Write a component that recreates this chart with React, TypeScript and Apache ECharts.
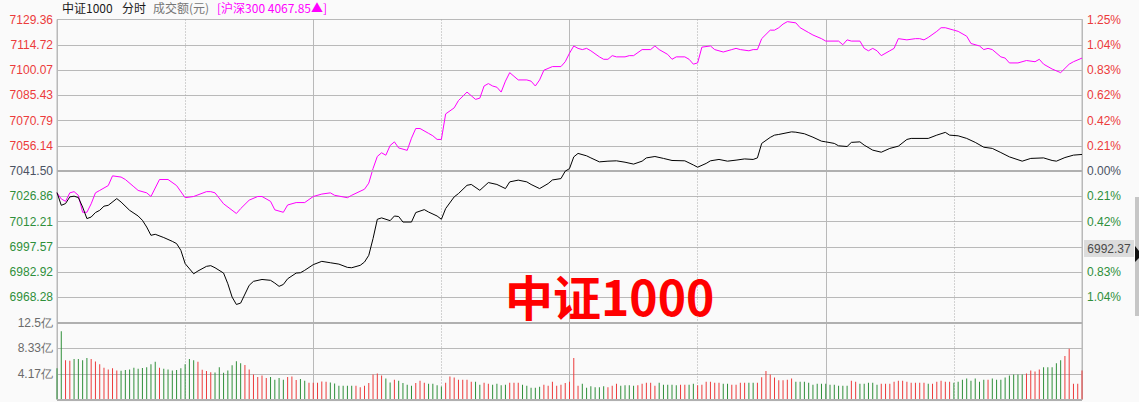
import React, { useEffect, useRef } from "react";
import * as echarts from "echarts";

// ---------- data ----------
const PREV_CLOSE = 7041.5;
const PRICE_MIN = 6953.64;
const PRICE_MAX = 7129.36;

// left axis labels from bottom (first one not shown)
const priceTickLabels = ["", "6968.28", "6982.92", "6997.57", "7012.21", "7026.86", "7041.50", "7056.14", "7070.79", "7085.43", "7100.07", "7114.72", "7129.36"];
// right axis labels from bottom (first one not shown; the -0.62% slot is covered by the crosshair value box)
const pctTickLabels = ["", "1.04%", "0.83%", "", "0.42%", "0.21%", "0.00%", "0.21%", "0.42%", "0.62%", "0.83%", "1.04%", "1.25%"];
const volTickLabels = ["", "4.17亿", "8.33亿", "12.5亿"];

// 中证1000 minute index (0..240) and price
const csiMinutes = [0, 1, 2, 3, 4, 5, 6, 7, 8, 9, 10, 11, 12, 14, 15, 17, 19, 20, 21, 22, 23, 25, 27, 28, 29, 30, 32, 33, 35, 36, 37, 39, 40, 41, 42, 43, 45, 46, 48, 50, 51, 52, 53, 54, 56, 57, 58, 60, 62, 64, 66, 68, 69, 71, 72, 73, 74, 75, 76, 78, 79, 80, 81, 83, 84, 86, 87, 89, 90, 91, 93, 94, 96, 97, 99, 101, 103, 105, 106, 108, 110, 111, 113, 115, 116, 118, 119, 120, 121, 122, 124, 125, 127, 129, 131, 133, 135, 137, 138, 140, 142, 144, 147, 149, 150, 152, 153, 155, 157, 159, 161, 163, 164, 165, 167, 168, 169, 172, 173, 175, 177, 179, 180, 182, 183, 185, 186, 188, 189, 191, 193, 195, 197, 199, 200, 204, 206, 208, 209, 211, 213, 215, 217, 219, 221, 223, 226, 228, 231, 233, 234, 236, 238, 240];
const csiPrices = [7029.0, 7021.6, 7022.6, 7026.5, 7026.9, 7026.1, 7020.6, 7013.9, 7014.8, 7017.4, 7018.7, 7021.1, 7021.6, 7025.5, 7023.5, 7018.7, 7015.4, 7012.9, 7009.0, 7004.2, 7004.8, 7002.9, 7000.7, 6999.4, 6995.5, 6987.8, 6981.9, 6983.5, 6986.2, 6986.6, 6985.4, 6982.3, 6976.1, 6968.4, 6964.1, 6964.9, 6975.2, 6977.5, 6978.6, 6978.1, 6976.5, 6974.6, 6975.7, 6979.0, 6982.3, 6982.5, 6983.9, 6987.2, 6989.1, 6988.3, 6987.5, 6985.6, 6985.4, 6986.8, 6988.7, 6992.6, 7002.3, 7013.5, 7014.3, 7012.7, 7015.4, 7015.1, 7011.9, 7011.9, 7017.4, 7019.1, 7017.7, 7015.4, 7013.5, 7019.7, 7026.5, 7028.4, 7033.2, 7033.7, 7030.3, 7034.8, 7033.7, 7031.3, 7035.2, 7036.2, 7035.2, 7033.7, 7031.3, 7034.2, 7036.3, 7037.1, 7041.4, 7042.9, 7049.7, 7051.7, 7050.3, 7049.1, 7046.8, 7047.2, 7047.4, 7046.6, 7045.5, 7047.2, 7049.1, 7049.9, 7048.8, 7047.6, 7047.4, 7045.0, 7043.7, 7045.9, 7047.4, 7048.2, 7047.2, 7047.8, 7048.5, 7048.2, 7049.1, 7057.5, 7061.0, 7062.3, 7062.7, 7064.2, 7064.0, 7063.1, 7061.1, 7058.8, 7058.4, 7057.5, 7056.1, 7055.7, 7058.1, 7058.4, 7056.5, 7053.6, 7052.4, 7054.6, 7055.9, 7059.8, 7060.4, 7060.4, 7062.3, 7063.9, 7062.3, 7061.9, 7060.4, 7058.1, 7055.3, 7054.6, 7052.2, 7049.7, 7047.2, 7048.8, 7049.1, 7047.6, 7047.2, 7049.3, 7050.7, 7051.1];

// 沪深300 minute index and change (%)
const hsMinutes = [0, 1, 2, 3, 4, 5, 6, 7, 8, 9, 10, 12, 13, 15, 16, 18, 19, 21, 22, 24, 26, 28, 30, 32, 35, 36, 37, 39, 42, 43, 45, 47, 48, 50, 51, 53, 54, 56, 58, 60, 62, 64, 65, 68, 69, 72, 73, 74, 75, 76, 77, 78, 79, 80, 82, 83, 84, 85, 87, 88, 89, 90, 91, 93, 94, 96, 97, 98, 99, 100, 101, 102, 103, 104, 105, 106, 107, 108, 110, 111, 112, 113, 114, 116, 118, 119, 120, 121, 122, 123, 124, 125, 127, 128, 129, 130, 131, 133, 134, 135, 137, 139, 140, 141, 143, 144, 145, 147, 148, 149, 150, 151, 153, 154, 156, 158, 159, 160, 162, 163, 164, 165, 167, 168, 169, 170, 171, 173, 174, 176, 177, 179, 180, 183, 184, 185, 186, 188, 189, 190, 191, 192, 193, 195, 196, 197, 199, 201, 202, 203, 204, 206, 207, 208, 210, 211, 213, 214, 216, 217, 218, 219, 221, 222, 223, 225, 227, 229, 230, 231, 233, 235, 237, 238, 240];
const hsPct = [-0.18, -0.23, -0.25, -0.18, -0.17, -0.2, -0.34, -0.34, -0.27, -0.18, -0.16, -0.12, -0.04, -0.05, -0.07, -0.13, -0.16, -0.18, -0.21, -0.07, -0.07, -0.12, -0.22, -0.21, -0.17, -0.17, -0.18, -0.27, -0.35, -0.31, -0.24, -0.21, -0.21, -0.25, -0.32, -0.34, -0.28, -0.26, -0.26, -0.21, -0.19, -0.18, -0.2, -0.22, -0.2, -0.15, -0.1, 0.02, 0.12, 0.15, 0.13, 0.21, 0.24, 0.19, 0.17, 0.27, 0.35, 0.35, 0.31, 0.29, 0.26, 0.26, 0.47, 0.52, 0.58, 0.65, 0.62, 0.59, 0.6, 0.7, 0.72, 0.7, 0.69, 0.65, 0.74, 0.81, 0.78, 0.75, 0.75, 0.74, 0.7, 0.75, 0.83, 0.86, 0.86, 0.9, 0.97, 1.03, 1.01, 1.0, 1.01, 0.99, 0.94, 0.92, 0.92, 0.95, 0.94, 0.94, 0.95, 0.95, 1.0, 1.0, 1.03, 1.0, 0.96, 0.92, 0.94, 0.94, 0.92, 0.88, 0.89, 1.02, 1.03, 1.0, 0.98, 1.0, 1.01, 1.0, 0.99, 1.0, 1.0, 1.09, 1.16, 1.16, 1.18, 1.21, 1.23, 1.22, 1.18, 1.14, 1.12, 1.09, 1.07, 1.07, 1.04, 1.08, 1.07, 1.07, 1.01, 0.99, 1.01, 0.99, 0.95, 0.99, 1.01, 1.09, 1.08, 1.09, 1.09, 1.08, 1.1, 1.15, 1.18, 1.18, 1.16, 1.15, 1.11, 1.05, 1.03, 1.0, 1.01, 1.0, 0.94, 0.93, 0.89, 0.89, 0.91, 0.9, 0.92, 0.88, 0.84, 0.81, 0.88, 0.9, 0.93];

// volume per minute (亿元) and direction (1 = up/red, 0 = down/green)
const volumes = [
  5.06, 11.06, 6.39, 6.28, 6.56, 6.56, 6.39, 6.72, 6.56, 6.17,
  5.72, 5.17, 4.89, 5.06, 4.72, 4.67, 4.78, 4.89, 5.17, 5.0,
  5.11, 5.22, 5.72, 6.11, 5.17, 5.0, 4.89, 4.72, 4.78, 5.06,
  5.72, 6.56, 6.39, 6.11, 4.83, 4.61, 4.44, 4.39, 5.22, 4.33,
  4.72, 5.56, 6.22, 5.89, 5.61, 4.89, 4.06, 3.67, 3.89, 3.5,
  3.67, 3.22, 3.5, 3.22, 3.67, 3.72, 3.17, 3.33, 3.06, 2.72,
  2.72, 2.72, 2.94, 2.89, 2.78, 2.61, 2.22, 2.22, 2.22, 2.22,
  2.22, 2.0, 2.22, 2.67, 4.06, 4.22,
  3.89, 3.39, 2.78, 3.22, 3.06, 2.67, 2.39, 2.22, 2.67, 3.06,
  2.72, 2.56, 2.56, 2.33, 2.11, 2.72, 3.72, 3.56, 3.22, 3.22,
  3.22, 2.89, 2.89, 2.39, 2.72, 2.56, 2.39, 2.56, 2.33, 2.39,
  2.72, 2.72, 2.72, 2.39, 2.22, 1.89, 1.89, 2.06, 2.39, 2.22,
  2.89, 2.22, 2.39, 2.67, 2.89, 6.72, 2.22, 2.56, 1.89, 2.17,
  2.0, 2.0, 2.17, 2.0, 2.22, 2.56, 2.22, 2.33, 2.33, 2.22,
  2.33, 2.56, 2.72, 2.72, 2.22, 2.72, 2.39, 2.39, 2.39, 2.33,
  2.39, 2.39, 2.39, 2.56, 2.33, 2.39, 2.89, 2.89, 2.72, 2.72,
  2.56, 2.56, 2.39, 2.39, 2.72, 2.72, 2.72, 2.72, 2.72,
  3.61, 4.61, 4.06, 3.56, 3.11, 3.11, 3.22, 3.39, 2.89, 2.89,
  2.89, 2.72, 2.39, 2.56, 2.56, 2.56, 2.39, 2.39, 2.22, 2.22,
  2.22, 3.06, 2.89, 2.56, 2.56, 2.72, 2.72, 2.39, 2.56, 2.56,
  2.56, 2.89, 3.06, 3.06, 2.89, 2.72, 2.72, 2.72, 2.72, 2.56,
  2.56, 2.89, 3.06, 2.89, 2.89, 2.72, 2.89, 3.22, 3.39, 3.06,
  3.39, 2.89, 3.22, 3.22, 3.39, 3.22, 3.22, 3.56, 3.89, 4.06,
  4.06, 4.06, 4.22, 4.72, 4.56, 4.89, 5.22, 5.22, 5.22, 5.89,
  6.39, 7.06, 8.22, 2.56, 2.56, 4.72,
];
const volumeUp = [
  0, 0, 1, 1, 0, 0, 0, 0, 1, 1,
  1, 1, 1, 1, 1, 0, 0, 0, 0, 0,
  0, 0, 0, 0, 1, 0, 0, 0, 0, 0,
  0, 0, 0, 1, 1, 1, 1, 0, 0, 0,
  0, 0, 0, 0, 1, 1, 1, 1, 1, 1,
  0, 0, 0, 0, 1, 1, 1, 0, 0, 1,
  1, 1, 1, 1, 0, 0, 0, 0, 0, 0,
  1, 1, 1, 1, 1, 1,
  1, 0, 0, 1, 0, 0, 0, 0, 1, 1,
  1, 0, 0, 0, 0, 1, 1, 1, 1, 1,
  1, 1, 0, 0, 1, 1, 0, 0, 0, 0,
  1, 1, 1, 0, 0, 0, 0, 0, 1, 1,
  1, 1, 1, 1, 1, 1, 1, 0, 0, 0,
  0, 0, 0, 1, 1, 1, 0, 0, 0, 0,
  1, 1, 1, 1, 1, 0, 0, 0, 0, 0,
  1, 1, 0, 0, 1, 1, 1, 1, 1, 1,
  0, 0, 1, 1, 1, 1, 0, 0, 1,
  1, 1, 1, 1, 1, 1, 1, 1, 0, 0,
  0, 0, 0, 0, 0, 0, 0, 0, 0, 0,
  0, 1, 1, 0, 0, 0, 0, 0, 1, 1,
  1, 1, 1, 1, 1, 1, 1, 1, 1, 0,
  1, 1, 1, 1, 1, 0, 0, 0, 0, 0,
  0, 0, 0, 1, 0, 0, 0, 0, 0, 0,
  0, 0, 1, 1, 1, 1, 0, 0, 0, 0,
  0, 1, 1, 1, 1, 1,
];

const HS300_LAST = "4067.85";
const crosshairValue = "6992.37";

// ---------- styles ----------
const RED = "#ec3b3b";
const GREEN = "#2f8f3a";
const ZERO = "#4b5263";
const GRID = "#b9b9b9";
const NUM_FONT = "'Liberation Sans', Arial, sans-serif";
const CJK_FONT = "'Noto Sans CJK SC', 'Noto Sans', sans-serif";

export default function App() {
  const ref = useRef<HTMLDivElement>(null);

  useEffect(() => {
    if (!ref.current) return;
    const chart = echarts.init(ref.current, undefined, { renderer: "svg" });

    const pctMin = (PRICE_MIN / PREV_CLOSE - 1) * 100;
    const pctMax = (PRICE_MAX / PREV_CLOSE - 1) * 100;

    const hiddenAxis = (gridIndex: number, min: number, max: number) => ({
      type: "value" as const,
      gridIndex,
      min,
      max,
      show: false,
    });

    const xBase = (gridIndex: number, interval: number, dotted: boolean) => ({
      type: "value" as const,
      gridIndex,
      min: 0,
      max: 240,
      interval,
      axisLine: { show: false },
      axisTick: { show: false },
      axisLabel: { show: false },
      splitLine: {
        show: true,
        lineStyle: { color: dotted ? "#aaaaaa" : GRID, width: 1, type: dotted ? [1, 2] : "solid" },
      },
    });

    const labelRich = {
      r: { color: RED, fontSize: 12, fontFamily: NUM_FONT },
      g: { color: GREEN, fontSize: 12, fontFamily: NUM_FONT },
      z: { color: ZERO, fontSize: 12, fontFamily: NUM_FONT },
    };
    const styleKey = (i: number) => (i > 6 ? "r" : i < 6 ? "g" : "z");

    const option: any = {
      animation: false,
      backgroundColor: "#fafafa",
      grid: [
        { left: 57, top: 19.5, width: 1025, height: 303, show: true, borderColor: GRID, borderWidth: 1, backgroundColor: "transparent" },
        { left: 57, top: 322.5, width: 1025, height: 77, show: true, borderColor: GRID, borderWidth: 1, backgroundColor: "transparent" },
      ],
      xAxis: [xBase(0, 30, true), xBase(0, 60, false), xBase(1, 30, true), xBase(1, 60, false)],
      yAxis: [
        hiddenAxis(0, PRICE_MIN, PRICE_MAX),
        hiddenAxis(0, pctMin, pctMax),
        {
          type: "value",
          gridIndex: 0,
          position: "left",
          min: -6,
          max: 6,
          interval: 1,
          axisLine: { show: false },
          axisTick: { show: false },
          axisLabel: {
            margin: 4,
            formatter: (v: number) => {
              const i = Math.round(v) + 6;
              const t = priceTickLabels[i];
              return t ? `{${styleKey(i)}|${t}}` : "";
            },
            rich: labelRich,
          },
          splitLine: { show: true, lineStyle: { color: GRID, width: 1 } },
        },
        {
          type: "value",
          gridIndex: 0,
          position: "right",
          min: -6,
          max: 6,
          interval: 1,
          axisLine: { show: false },
          axisTick: { show: false },
          axisLabel: {
            margin: 5,
            formatter: (v: number) => {
              const i = Math.round(v) + 6;
              const t = pctTickLabels[i];
              return t ? `{${styleKey(i)}|${t}}` : "";
            },
            rich: labelRich,
          },
          splitLine: { show: false },
        },
        hiddenAxis(1, 0, 12.5),
        {
          type: "value",
          gridIndex: 1,
          position: "left",
          min: 0,
          max: 3,
          interval: 1,
          axisLine: { show: false },
          axisTick: { show: false },
          axisLabel: {
            margin: 4,
            color: "#6b6b6b",
            fontSize: 12,
            fontFamily: NUM_FONT,
            formatter: (v: number) => volTickLabels[Math.round(v)] || "",
          },
          splitLine: { show: true, lineStyle: { color: GRID, width: 1 } },
        },
      ],
      series: [
        {
          name: "中证1000",
          type: "line",
          xAxisIndex: 0,
          yAxisIndex: 0,
          data: csiMinutes.map((m, i) => [m, csiPrices[i]]),
          symbol: "none",
          lineStyle: { color: "#000000", width: 1 },
          itemStyle: { color: "#000000" },
          z: 5,
          markLine: {
            silent: true,
            symbol: "none",
            label: { show: false },
            lineStyle: { color: "#b0b0b0", width: 2, type: "solid" },
            data: [{ yAxis: PREV_CLOSE }, { yAxis: PRICE_MIN }],
          },
        },
        {
          name: "沪深300",
          type: "line",
          xAxisIndex: 0,
          yAxisIndex: 1,
          data: hsMinutes.map((m, i) => [m, hsPct[i]]),
          symbol: "none",
          lineStyle: { color: "#ff00ff", width: 1 },
          itemStyle: { color: "#ff00ff" },
          z: 4,
        },
        {
          name: "成交额",
          type: "bar",
          xAxisIndex: 2,
          yAxisIndex: 4,
          barWidth: 1,
          clip: false,
          data: volumes.map((v, i) => ({
            value: [i, v],
            itemStyle: { color: volumeUp[i] ? RED : GREEN },
          })),
          markLine: {
            silent: true,
            symbol: "none",
            label: { show: false },
            lineStyle: { color: "#b0b0b0", width: 2, type: "solid" },
            data: [{ yAxis: 0 }],
          },
        },
      ],
      graphic: [
        { type: "text", left: 62, top: 1, style: { text: "中证1000", fill: "#1a1a1a", font: `12px ${CJK_FONT}` } },
        { type: "text", left: 122, top: 1, style: { text: "分时", fill: "#1a1a1a", font: `12px ${CJK_FONT}` } },
        { type: "text", left: 153, top: 1, style: { text: "成交额(元)", fill: "#777777", font: `12px ${CJK_FONT}` } },
        { type: "text", left: 217, top: 1, style: { text: `[沪深300 ${HS300_LAST}▲]`, fill: "#ff00ff", font: `12px ${CJK_FONT}` } },
        {
          type: "text",
          left: 505,
          top: 271,
          z: 10,
          style: { text: "中证1000", fill: "#ff0000", font: `bold 48px ${CJK_FONT}` },
        },
        {
          type: "group",
          left: 1084,
          top: 240,
          z: 20,
          children: [
            { type: "rect", shape: { x: 0, y: 0, width: 50, height: 17 }, style: { fill: "#dcdcdc" } },
            { type: "text", x: 25, y: 8.5, style: { text: crosshairValue, fill: "#4a4a4a", font: `12px ${NUM_FONT}`, align: "center", verticalAlign: "middle" } },
          ],
        },
        { type: "rect", left: 1135, top: 197, z: 20, shape: { width: 4, height: 119 }, style: { fill: "#c6c6c6" } },
        { type: "polygon", z: 21, shape: { points: [[1135, 246], [1139, 251], [1139, 258], [1135, 262]] }, style: { fill: "#111111" } },
      ],
    };

    chart.setOption(option);
    return () => chart.dispose();
  }, []);

  return <div ref={ref} style={{ position: "fixed", left: 0, top: 0, width: 1139, height: 402 }} />;
}
